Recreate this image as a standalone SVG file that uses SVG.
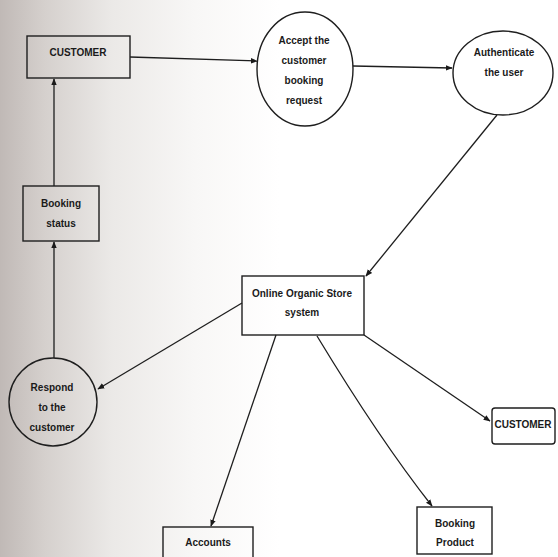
<svg xmlns="http://www.w3.org/2000/svg" width="558" height="557" viewBox="0 0 558 557">
<defs>
<linearGradient id="bg" x1="0" y1="0" x2="1" y2="0">
<stop offset="0" stop-color="#c0b9b6"/>
<stop offset="0.08" stop-color="#d5d0cd"/>
<stop offset="0.2" stop-color="#ebe9e7"/>
<stop offset="0.35" stop-color="#f8f7f6"/>
<stop offset="0.5" stop-color="#ffffff"/>
<stop offset="1" stop-color="#ffffff"/>
</linearGradient>
<marker id="ah" viewBox="0 0 10 10" refX="9" refY="5" markerWidth="7" markerHeight="7" orient="auto" markerUnits="userSpaceOnUse">
<path d="M0,1 L10,5 L0,9 z" fill="#1a1a1a"/>
</marker>
</defs>
<style>
.shape{fill:none;stroke:#1e1e1e;stroke-width:1.4}
.edge{fill:none;stroke:#1e1e1e;stroke-width:1.3;marker-end:url(#ah)}
text{font-family:"Liberation Sans",Arial,sans-serif;font-size:10px;font-weight:bold;fill:#1a1a1a;text-anchor:middle}
</style>
<rect x="0" y="0" width="558" height="557" fill="url(#bg)"/>

<g id="connectors">
<line class="edge" x1="130" y1="57" x2="257" y2="61"/>
<line class="edge" x1="353" y1="66" x2="452" y2="68"/>
<line class="edge" x1="497" y1="115" x2="366" y2="276"/>
<line class="edge" x1="54" y1="186" x2="54" y2="79"/>
<line class="edge" x1="54" y1="358" x2="54" y2="242"/>
<line class="edge" x1="242" y1="303" x2="98" y2="389"/>
<line class="edge" x1="364" y1="335" x2="490" y2="421"/>
<line class="edge" x1="276" y1="335" x2="211" y2="526"/>
<path class="edge" d="M317,336 Q380,440 432,506"/>
</g>

<g id="customer1">
<rect class="shape" x="27" y="36" width="103" height="42"/>
<text x="78" y="56">CUSTOMER</text>
</g>

<g id="accept">
<ellipse class="shape" cx="305" cy="69" rx="48" ry="57"/>
<text x="304" y="44">Accept the</text>
<text x="304" y="64">customer</text>
<text x="304" y="84">booking</text>
<text x="304" y="104">request</text>
</g>

<g id="authenticate">
<ellipse class="shape" cx="503" cy="73" rx="50" ry="42"/>
<text x="504" y="56">Authenticate</text>
<text x="504" y="76">the user</text>
</g>

<g id="booking-status">
<rect class="shape" x="23" y="186" width="76" height="55"/>
<text x="61" y="207">Booking</text>
<text x="61" y="227">status</text>
</g>

<g id="online-store">
<rect class="shape" x="242" y="276" width="122" height="59"/>
<text x="302" y="297">Online Organic Store</text>
<text x="302" y="316">system</text>
</g>

<g id="respond">
<circle class="shape" cx="53" cy="402" r="44"/>
<text x="52" y="391">Respond</text>
<text x="52" y="411">to the</text>
<text x="52" y="431">customer</text>
</g>

<g id="customer2">
<rect class="shape" x="492" y="408" width="63" height="36" rx="3"/>
<text x="523" y="428">CUSTOMER</text>
</g>

<g id="accounts">
<rect class="shape" x="163" y="527" width="90" height="35"/>
<text x="208" y="546">Accounts</text>
</g>

<g id="booking-product">
<rect class="shape" x="417" y="507" width="75" height="47"/>
<text x="455" y="527">Booking</text>
<text x="455" y="546">Product</text>
</g>
</svg>
